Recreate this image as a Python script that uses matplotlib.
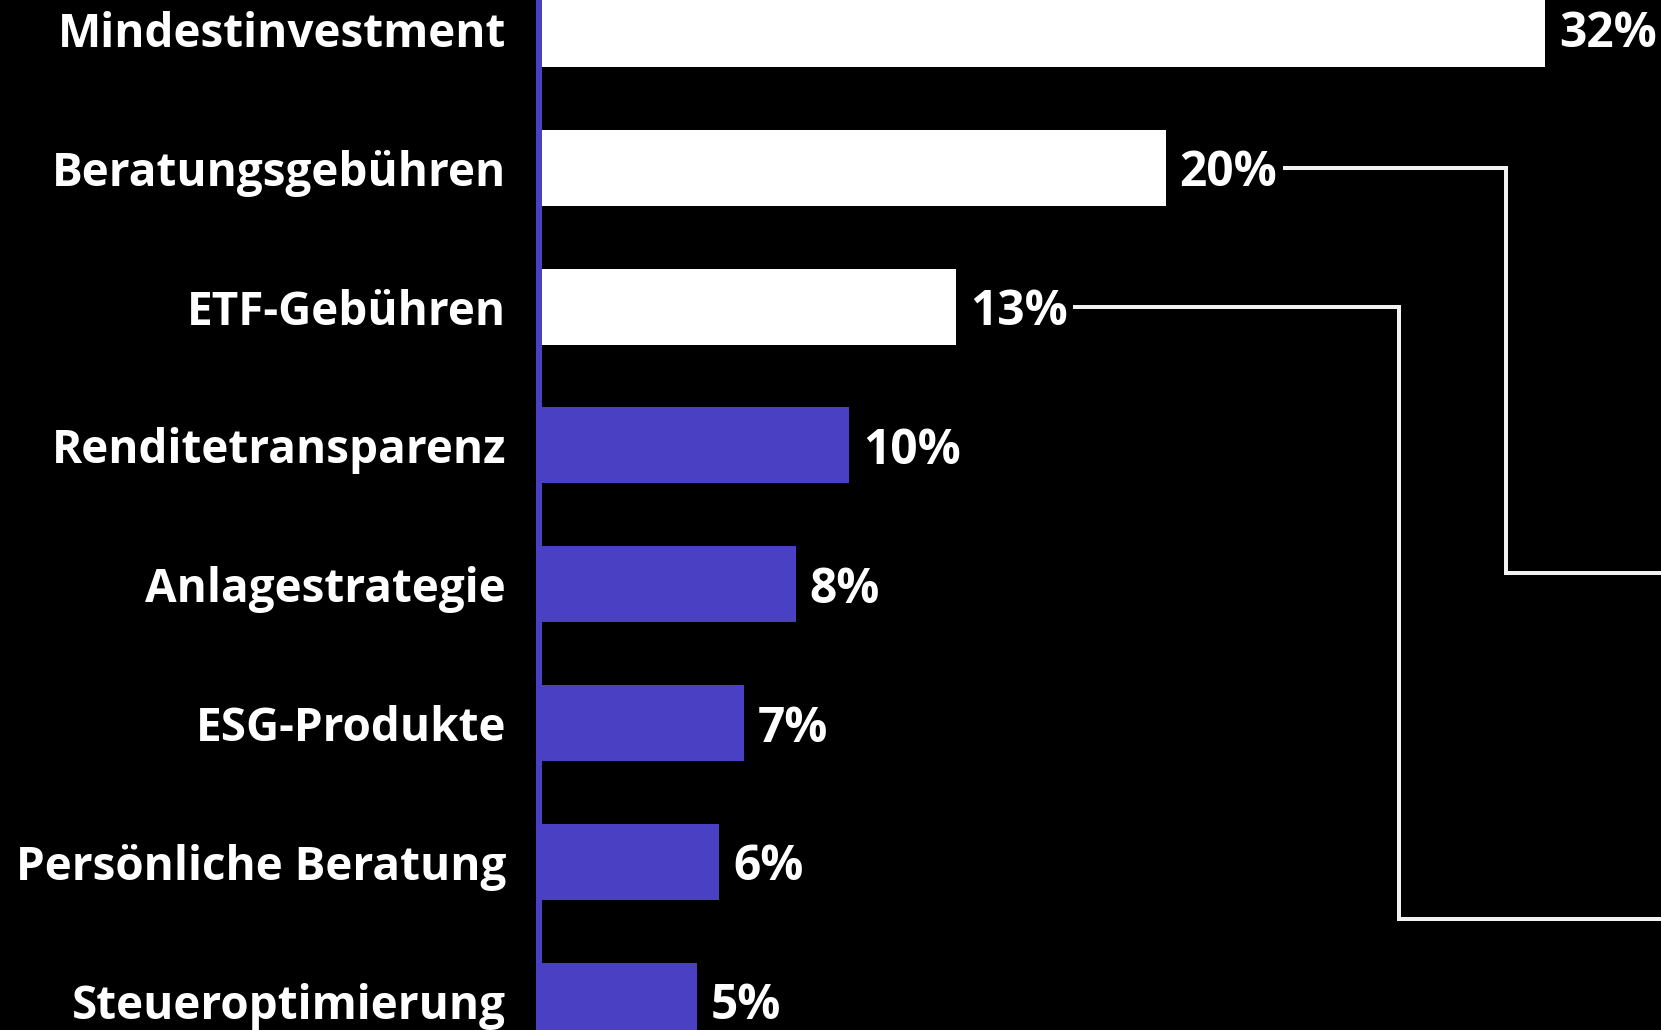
import matplotlib.pyplot as plt
import numpy as np

# survey result: what matters most when choosing a robo advisor
categories = ['Mindestinvestment', 'Beratungsgebühren', 'ETF-Gebühren',
              'Renditetransparenz', 'Anlagestrategie', 'ESG-Produkte',
              'Persönliche Beratung', 'Steueroptimierung']
shares = [32.0, 19.9, 13.2, 9.8, 8.1, 6.45, 5.65, 4.95]
share_labels = ['32%', '20%', '13%', '10%', '8%', '7%', '6%', '5%']
highlight = [True, True, True, False, False, False, False, False]

# callout connectors: (row, x of the elbow, row where it ends)
callouts = [(1, 30.75, 3.92), (2, 27.35, 6.41)]

PURPLE = '#4a40c3'
WHITE = '#ffffff'
FONT = 'Open Sans'

W, H, DPI = 1661, 1030, 100
PX = 31.34          # pixels per percent
ROW = 138.8         # pixels between bar centres
X0 = 542            # pixel of the zero line
Y0 = 29             # pixel centre of first row

fig = plt.figure(figsize=(W / DPI, H / DPI), dpi=DPI, facecolor='black')
axl = 530
ax = fig.add_axes([axl / W, 0, (W - axl) / W, 1])
ax.set_facecolor('black')
ax.set_xlim((axl - X0) / PX, (W - X0) / PX)
ax.set_ylim((H - Y0) / ROW, -Y0 / ROW)

y = np.arange(len(categories))
colors = [WHITE if h else PURPLE for h in highlight]
ax.barh(y, shares, height=76 / ROW, color=colors, zorder=3)
ax.axvline(-3 / PX, color=PURPLE, lw=6 * 72 / DPI, zorder=2)

txts = []
for yi, v, lab in zip(y, shares, share_labels):
    t = ax.text(v + 14 / PX, yi, lab, color='white', fontsize=34.5,
                fontfamily=FONT, fontweight='bold', va='center_baseline',
                ha='left', zorder=4)
    txts.append(t)

ax.set_yticks(y)
ax.set_yticklabels(categories, fontsize=33, fontfamily=FONT,
                   fontweight='bold', color='white')
ax.tick_params(axis='y', length=0, pad=(axl - 506) * 72 / DPI)
ax.set_xticks([])
for s in ax.spines.values():
    s.set_visible(False)

# connectors start just right of the value label
fig.canvas.draw()
r = fig.canvas.get_renderer()
inv = ax.transData.inverted()
for row, xe, yend in callouts:
    bb = txts[row].get_window_extent(r)
    xs = inv.transform((bb.x1 + 8, 0))[0]
    xmax = ax.get_xlim()[1]
    ax.plot([xs, xe, xe, xmax], [row, row, yend, yend], color='#f2f2f2',
            lw=4 * 72 / DPI, solid_joinstyle='miter', zorder=1, clip_on=False)

fig.savefig('out.png', dpi=DPI, facecolor='black')
